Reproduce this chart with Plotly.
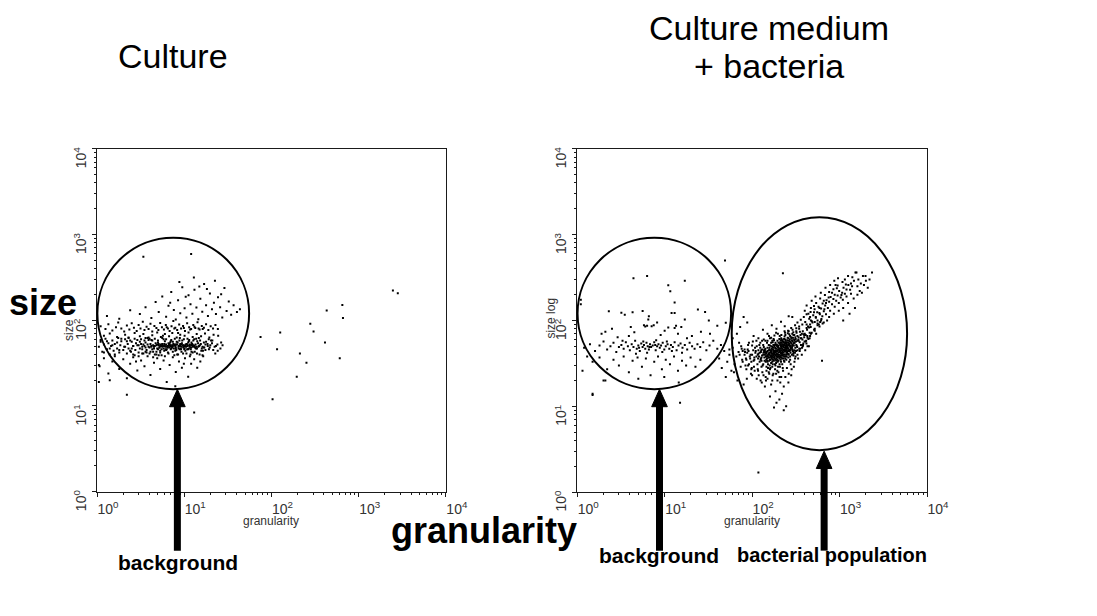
import plotly.graph_objects as go

W, H = 1097, 616

# ---------------- Culture medium alone: events as (granularity, size) ----------------
culture_core = [
    (2.6, 50), (3.1, 47), (3.4, 52), (3.9, 49), (4.3, 46), (4.8, 51), (5.2, 48), (5.9, 53), (6.4, 50), (7.1, 47),
    (7.8, 52), (8.6, 49), (9.4, 54), (10.2, 50), (11.3, 47), (12.4, 52), (13.8, 49), (15.1, 51), (16.7, 48),
    (2.8, 54), (3.3, 49), (3.7, 45), (4.1, 53), (4.6, 50), (5.0, 55), (5.5, 46), (6.1, 49), (6.8, 52), (7.4, 50),
    (8.1, 45), (8.9, 51), (9.8, 48), (10.7, 53), (11.9, 46), (13.1, 50), (14.4, 54), (15.9, 47), (17.5, 52),
    (3.0, 51), (3.6, 55), (4.0, 48), (4.4, 51), (4.9, 47), (5.4, 52), (5.7, 50), (6.3, 46), (6.6, 54), (7.2, 49),
    (7.7, 51), (8.4, 55), (9.1, 47), (9.6, 51), (10.5, 49), (11.1, 55), (12.0, 48), (12.8, 51), (14.0, 47), (15.5, 53),
    (2.5, 47), (3.2, 53), (3.5, 50), (4.2, 49), (4.7, 54), (5.1, 51), (5.6, 49), (6.0, 51), (6.5, 48), (6.9, 50),
    (7.5, 53), (8.0, 48), (8.7, 50), (9.3, 52), (10.0, 46), (10.9, 50), (11.6, 52), (12.6, 49), (13.5, 52), (14.8, 50),
    (16.2, 49), (3.8, 52), (4.5, 49), (5.3, 50), (5.8, 47), (6.2, 52), (6.7, 51), (7.0, 46), (7.9, 50), (8.3, 52),
    (9.0, 50), (9.9, 51), (10.4, 52), (11.5, 50), (12.3, 51), (13.3, 48), (6.5, 50), (7.3, 51), (8.8, 50), (11.0, 51),
]
culture_scatter = [
    (5.3, 44), (2.2, 57), (9.7, 41), (1.4, 47), (12.7, 58), (3.6, 62), (7.7, 39), (18.5, 53), (4.1, 43), (1.7, 55),
    (10.9, 61), (6.2, 45), (2.9, 51), (15.7, 44), (8.2, 56), (1.2, 42), (20.3, 58), (5.8, 60), (3.3, 46), (11.8, 40),
    (6.9, 55), (2.4, 44), (14.1, 57), (4.6, 40), (9.2, 46), (1.9, 61), (13.2, 43), (7.1, 59), (3.7, 42), (16.8, 55),
    (5.5, 39), (2.6, 50), (10.3, 44), (8.9, 62), (1.5, 51), (12.1, 55), (4.3, 58), (6.5, 42), (19.6, 48), (3.1, 56),
    (7.9, 44), (2.1, 49), (11.4, 59), (5.0, 46), (15.0, 40), (1.3, 57), (9.5, 58), (4.8, 43), (13.7, 61), (6.0, 57),
    (3.4, 41), (17.5, 45), (8.5, 40), (2.3, 62), (10.8, 46), (5.6, 53), (1.8, 45), (12.5, 42), (7.4, 56), (4.0, 61),
    (24.2, 44), (21.0, 58), (26.5, 55), (22.7, 41), (19.1, 60), (16.2, 39), (1.1, 59), (1.6, 40), (2.7, 39), (3.9, 59),
    (4.5, 47), (5.2, 48), (6.1, 46), (7.3, 48), (8.0, 47), (9.0, 53), (10.1, 47), (11.1, 46), (12.3, 53), (13.6, 47),
    (5.9, 50), (7.6, 47), (9.8, 49), (12.0, 51), (4.9, 52), (3.6, 48), (6.8, 48), (8.6, 47), (10.6, 52), (14.5, 49),
    (5.5, 50), (6.3, 49), (7.0, 51), (8.1, 52), (9.3, 49), (4.2, 50), (11.7, 48), (6.7, 53), (8.9, 46), (5.1, 53),
]
culture_wide = [
    (1.05, 49), (1.1, 56), (1.15, 43), (1.2, 52), (1.25, 61), (1.3, 46), (1.35, 54), (1.4, 40), (1.45, 50), (1.5, 58),
    (1.55, 44), (1.6, 53), (1.7, 47), (1.75, 62), (1.8, 42), (1.85, 51), (1.9, 57), (2.0, 45), (2.05, 49), (2.1, 60),
    (2.2, 41), (2.25, 53), (2.3, 47), (2.4, 58), (2.45, 43), (2.5, 56), (2.6, 40), (2.7, 61), (2.75, 45), (2.9, 59),
    (3.0, 42), (3.2, 60), (3.3, 41), (3.5, 58), (3.6, 43), (3.8, 62), (4.0, 41), (4.2, 59), (4.4, 43), (4.6, 61),
    (4.8, 40), (5.0, 58), (5.3, 42), (5.6, 62), (5.9, 44), (6.2, 60), (6.6, 41), (7.0, 57), (7.4, 43), (7.8, 61),
    (8.3, 40), (8.8, 58), (9.3, 43), (9.9, 60), (10.6, 41), (11.3, 57), (12.1, 43), (13.0, 60), (14.0, 41), (15.2, 58),
    (16.4, 44), (17.8, 56), (19.2, 46), (20.8, 54), (22.3, 49), (24.0, 52), (26.0, 47), (27.5, 51), (21.5, 45),
    (18.6, 50), (17.0, 48), (19.9, 51), (23.1, 50),
]
culture_mid = [
    (1.2, 66), (1.4, 70), (1.7, 64), (2.1, 68), (2.3, 63), (2.7, 71), (3.1, 65), (3.4, 69), (3.9, 63), (4.3, 67),
    (4.9, 72), (5.4, 64), (6.0, 69), (6.7, 65), (7.3, 71), (8.2, 63), (9.0, 68), (10.1, 66), (11.2, 72), (12.5, 64),
    (13.9, 69), (15.6, 65), (17.3, 70), (19.4, 63), (21.7, 68), (24.5, 66), (8.5, 71), (14.7, 62), (5.7, 66),
]
culture_upper = [
    (1.1, 85), (1.25, 79), (1.35, 90), (1.5, 76), (1.65, 83), (1.75, 94), (1.9, 80), (2.05, 74), (2.2, 87), (2.35, 78),
    (2.5, 92), (2.65, 82), (2.85, 75), (3.0, 88), (3.15, 80), (3.35, 96), (3.5, 77), (3.7, 84), (3.9, 79), (4.1, 91),
    (4.3, 74), (4.55, 86), (4.8, 81), (5.05, 77), (5.3, 93), (5.55, 83), (5.85, 78), (6.15, 88), (6.5, 80), (6.8, 75),
    (7.15, 85), (7.5, 98), (7.9, 82), (8.3, 77), (8.75, 89), (9.2, 80), (9.7, 86), (10.2, 75), (10.8, 92), (11.4, 83),
    (12.0, 79), (12.7, 88), (13.4, 81), (14.2, 95), (15.0, 78), (15.9, 86), (16.8, 82), (17.8, 90), (18.9, 77), (20.1, 85),
    (21.4, 80), (22.8, 88), (24.3, 79), (9.9, 81), (11.7, 78), (13.1, 84), (14.6, 80), (16.3, 79), (7.7, 80), (6.3, 83),
]
culture_top = [
    (1.3, 112), (1.8, 104), (2.4, 131), (3.1, 118), (3.6, 142), (4.2, 106), (4.7, 163), (5.1, 125), (5.6, 189), (6.2, 110),
    (6.6, 148), (7.1, 214), (7.6, 132), (8.0, 102), (8.5, 171), (9.0, 121), (9.5, 243), (10.1, 138), (10.6, 108), (11.2, 196),
    (11.8, 154), (12.4, 119), (13.1, 227), (13.8, 141), (14.5, 103), (15.3, 178), (16.1, 126), (16.9, 265), (17.8, 150), (18.7, 112),
    (19.7, 205), (20.8, 134), (21.9, 160), (23.1, 118), (24.4, 186), (25.8, 142), (27.3, 108), (28.9, 238), (30.6, 128), (32.4, 166),
    (34.5, 116), (36.8, 150), (40.2, 125), (43.5, 134), (8.8, 280), (12.9, 315), (22.5, 290), (10.4, 188), (14.9, 247), (6.9, 160),
    (18.2, 232), (26.5, 201),
]
culture_low = [
    (1.05, 30), (1.2, 36), (1.35, 24), (1.5, 33), (1.6, 38), (1.8, 27), (2.0, 35), (2.2, 21), (2.4, 31), (2.6, 37),
    (2.9, 26), (3.2, 34), (3.5, 29), (3.8, 38), (4.1, 23), (4.5, 32), (4.9, 36), (5.3, 27), (5.8, 34), (6.3, 19),
    (6.8, 30), (7.4, 37), (8.0, 25), (8.7, 33), (9.4, 28), (10.2, 36), (11.1, 22), (12.0, 31), (13.0, 35), (14.1, 28),
    (15.3, 33), (16.5, 38), (4.4, 37), (6.0, 38), (7.9, 17), (9.9, 31), (3.0, 38), (5.1, 39), (11.6, 38), (2.8, 33),
]
culture_outliers = [
    (75, 64), (126, 72), (116, 46), (212, 41), (252, 32), (195, 22), (103, 12), (279, 91), (304, 74), (430, 130),
    (411, 55), (607, 36), (650, 151), (661, 106), (2470, 222), (2810, 206), (13, 8.4), (12, 592), (3.4, 551),
    (2.2, 13.5), (1.4, 20), (1.07, 29), (1.05, 19),
]

# ---------------- Culture medium + bacteria ----------------
medium_band = [
    (1.2, 48), (1.4, 53), (1.6, 44), (1.8, 51), (2.0, 57), (2.2, 46), (2.4, 50), (2.6, 55), (2.8, 43), (3.0, 49),
    (3.2, 52), (3.4, 47), (3.6, 56), (3.8, 50), (4.0, 45), (4.2, 53), (4.4, 49), (4.6, 58), (4.8, 47), (5.0, 51),
    (5.2, 44), (5.4, 54), (5.6, 49), (5.8, 52), (6.0, 47), (6.2, 55), (6.4, 50), (6.6, 46), (6.8, 53), (7.0, 49),
    (7.3, 51), (7.6, 56), (7.9, 45), (8.2, 50), (8.5, 53), (8.8, 48), (9.1, 51), (9.5, 55), (9.9, 46), (10.3, 50),
    (10.8, 53), (11.3, 47), (11.8, 52), (12.4, 49), (13.0, 56), (13.7, 45), (14.4, 51), (15.2, 54), (16.0, 48), (17.0, 52),
    (18.1, 46), (19.3, 55), (20.6, 50), (22.0, 47), (23.7, 53), (25.5, 49), (27.6, 56), (30.0, 45), (32.6, 51), (36.0, 58),
    (40.0, 47), (44.0, 52), (3.3, 58), (5.7, 57), (8.0, 59), (10.6, 57), (6.3, 42), (9.4, 43), (12.1, 44), (4.7, 41),
    (15.8, 42), (7.8, 52), (5.1, 48), (6.7, 49),
]
medium_upper = [
    (4.4, 310), (6.3, 330), (17, 290), (11, 258), (11.6, 219), (13, 162), (2.3, 128), (3.2, 123), (3.5, 117), (4.3, 125),
    (5.6, 129), (6.6, 112), (6.5, 103), (8.2, 95), (12, 122), (13, 122), (17, 103), (24, 134), (29, 126), (32, 100),
    (50, 94), (40, 87), (1.1, 175), (4.1, 84), (4.5, 73), (11, 83), (13, 82), (13.5, 87), (15.5, 84), (2.5, 80),
    (2.1, 74), (6.3, 87), (5.8, 88), (6.0, 85), (7.1, 86), (7.5, 88), (1.9, 70), (3.9, 66), (9.0, 68), (14.2, 70),
    (20.5, 66), (26, 74), (33, 70), (2.9, 64), (18, 62), (10, 76),
]
medium_low = [
    (1.3, 38), (1.5, 33), (1.8, 37), (2.2, 27), (2.6, 35), (3.0, 30), (3.4, 38), (3.9, 25), (4.3, 34), (4.9, 37),
    (5.5, 29), (6.1, 36), (6.9, 23), (7.6, 33), (8.4, 38), (9.3, 27), (10.3, 35), (11.5, 31), (12.8, 38), (14.2, 26),
    (15.8, 34), (17.6, 30), (19.8, 37), (22.5, 29), (25.6, 35), (1.15, 26), (2.0, 20), (9.9, 22), (5.0, 21), (14.5, 19),
    (1.5, 14), (15, 11),
]
bacteria_core = [
    (120, 38), (135, 42), (148, 36), (155, 45), (162, 39), (170, 33), (178, 41), (186, 47), (195, 37), (205, 43),
    (214, 50), (224, 39), (236, 46), (248, 53), (260, 41), (274, 49), (290, 57), (305, 45), (320, 52), (338, 60),
    (110, 44), (125, 35), (140, 40), (152, 31), (158, 48), (166, 43), (174, 37), (182, 52), (190, 44), (200, 34),
    (210, 56), (220, 47), (230, 42), (242, 58), (255, 50), (268, 44), (282, 62), (296, 54), (312, 48), (330, 66),
    (100, 40), (115, 31), (130, 46), (144, 38), (150, 33), (160, 51), (168, 36), (176, 45), (185, 30), (193, 50),
    (203, 40), (212, 35), (222, 53), (232, 61), (245, 45), (258, 55), (272, 38), (286, 59), (300, 51), (318, 57),
    (95, 36), (108, 48), (122, 33), (137, 44), (146, 29), (154, 41), (163, 35), (171, 49), (180, 38), (188, 32),
    (198, 46), (207, 54), (217, 37), (227, 49), (239, 56), (251, 43), (264, 52), (278, 47), (293, 63), (309, 42),
    (105, 29), (118, 41), (128, 37), (142, 47), (151, 38), (159, 30), (167, 45), (175, 40), (184, 35), (192, 41),
    (201, 48), (211, 43), (219, 60), (229, 36), (240, 51), (253, 59), (266, 46), (280, 54), (297, 39), (325, 50),
    (88, 42), (98, 33), (112, 38), (127, 45), (139, 34), (147, 43), (156, 37), (165, 32), (173, 46), (181, 43),
    (189, 36), (197, 40), (206, 31), (215, 45), (225, 57), (235, 48), (247, 40), (261, 62), (276, 51), (292, 44),
    (92, 31), (103, 45), (117, 36), (132, 30), (141, 42), (149, 39), (157, 34), (164, 44), (172, 31), (179, 37),
    (187, 42), (196, 38), (204, 45), (213, 41), (221, 36), (233, 44), (244, 54), (256, 48), (270, 57), (285, 48),
    (130, 39), (138, 37), (145, 35), (153, 40), (161, 42), (169, 38), (177, 34), (183, 40), (191, 38), (199, 42),
    (208, 38), (216, 42), (226, 45), (237, 40), (249, 48), (262, 44), (275, 42), (288, 50), (303, 55), (315, 61),
    (126, 43), (143, 33), (150, 44), (158, 40), (163, 38), (168, 41), (174, 39), (180, 44), (186, 39), (194, 35),
    (202, 38), (209, 47), (218, 51), (228, 52), (238, 54), (250, 52), (263, 58), (277, 56), (290, 52), (302, 60),
    (200, 55), (210, 52), (220, 58), (230, 55), (240, 60), (250, 56), (215, 62), (235, 65), (255, 63), (225, 50),
    (245, 50), (265, 54), (195, 58), (205, 61), (185, 55), (175, 52), (165, 55), (155, 52), (232, 52), (218, 55),
]
bacteria_spread = [
    (142, 58), (265, 33), (98, 27), (372, 48), (188, 72), (121, 52), (310, 36), (224, 28), (156, 66), (415, 58),
    (89, 46), (198, 29), (280, 82), (134, 31), (350, 44), (176, 61), (240, 36), (112, 58), (455, 62), (207, 66),
    (96, 40), (330, 40), (162, 28), (258, 76), (124, 48), (385, 54), (214, 33), (148, 55), (297, 68), (184, 48),
    (106, 37), (430, 50), (170, 29), (270, 60), (130, 58), (360, 62), (226, 40), (117, 26), (320, 75), (192, 52),
    (140, 45), (235, 75), (160, 62), (400, 70), (205, 47), (128, 34), (290, 46), (172, 56), (248, 38), (100, 51),
    (345, 85), (182, 31), (275, 45), (136, 49), (420, 90), (212, 59), (152, 28), (305, 58), (196, 33), (118, 45),
    (166, 50), (238, 44), (178, 59), (258, 47), (145, 41), (215, 48), (190, 40), (228, 46), (160, 35), (272, 50),
    (205, 36), (185, 44), (250, 45), (175, 43), (140, 43), (222, 43), (168, 47), (195, 44), (240, 49), (158, 46),
    (213, 39), (180, 50), (200, 51), (150, 48), (232, 38), (262, 40), (171, 41), (198, 49), (186, 53), (154, 37),
    (220, 41), (246, 42), (166, 39), (208, 44), (176, 48), (190, 47), (228, 57), (244, 47), (213, 53), (162, 45),
    (145, 38), (134, 40), (126, 36), (116, 40), (109, 42), (104, 34), (122, 42), (138, 46), (149, 34), (157, 42),
    (165, 37), (173, 35), (181, 36), (189, 34), (200, 38), (210, 37), (219, 39), (231, 34), (241, 38), (253, 41),
    (283, 48), (295, 41), (306, 55), (318, 44), (328, 49), (340, 58), (354, 47), (366, 62), (382, 52), (395, 68),
    (410, 57), (428, 66), (448, 83), (470, 70), (490, 95), (512, 78), (535, 110), (560, 92), (588, 122), (615, 100),
    (100, 23), (113, 21), (129, 19), (144, 20), (262, 24), (283, 27), (300, 29), (86, 35), (82, 40), (78, 44),
    (92, 55), (104, 66), (118, 62), (133, 78), (150, 70), (168, 88), (190, 80), (214, 97), (236, 86), (262, 112),
    (288, 110), (460, 110), (510, 125), (520, 80), (580, 90), (635, 112), (670, 135), (540, 70), (480, 72), (600, 96),
]
bacteria_halo = [
    (72, 40), (78, 33), (82, 46), (86, 27), (90, 52), (94, 38), (97, 24), (102, 57), (107, 26), (113, 50),
    (119, 23), (124, 55), (131, 25), (136, 60), (143, 22), (150, 58), (157, 24), (165, 63), (172, 23), (180, 67),
    (188, 24), (197, 70), (206, 22), (216, 68), (226, 26), (238, 72), (250, 28), (262, 75), (276, 31), (290, 78),
    (305, 33), (320, 81), (336, 36), (352, 74), (370, 40), (388, 69), (405, 45), (425, 78), (446, 50), (468, 84),
    (76, 47), (84, 30), (91, 44), (99, 28), (106, 35), (116, 27), (128, 29), (134, 52), (146, 26), (160, 27),
    (170, 58), (183, 27), (194, 26), (208, 29), (221, 31), (234, 33), (246, 35), (259, 37), (272, 35), (285, 40),
    (298, 43), (314, 38), (330, 45), (346, 47), (362, 52), (380, 50), (398, 57), (418, 54), (440, 61), (460, 66),
    (240, 68), (256, 71), (272, 66), (288, 70), (304, 68), (322, 72), (340, 64), (358, 68), (376, 60), (394, 64),
    (330, 58), (350, 56), (312, 64), (296, 73), (280, 64), (266, 69), (370, 70), (410, 68), (430, 63), (455, 72),
]
bacteria_tail = [
    (310, 88), (330, 95), (345, 80), (360, 102), (375, 90), (390, 110), (405, 96), (420, 118), (436, 85), (450, 105),
    (466, 126), (482, 98), (500, 115), (518, 135), (536, 108), (555, 125), (575, 145), (595, 118), (615, 138), (640, 158),
    (660, 128), (685, 150), (710, 172), (735, 140), (760, 165), (790, 188), (820, 155), (850, 178), (880, 200), (915, 170),
    (950, 195), (990, 220), (1030, 185), (1070, 210), (1110, 240), (1150, 205), (1200, 230), (1260, 260), (1320, 228), (1390, 250),
    (1460, 290), (1520, 362), (1560, 362), (1640, 300), (1750, 270), (1850, 330), (2000, 290), (2350, 362), (1980, 330),
    (380, 75), (420, 82), (460, 90), (520, 96), (560, 100), (620, 104), (700, 118), (780, 130), (880, 145), (980, 160),
    (1090, 175), (1200, 190), (1350, 205), (640, 92), (720, 100), (470, 140), (540, 160), (600, 180), (680, 198), (760, 215),
    (850, 232), (950, 255), (1080, 280), (560, 88), (590, 140), (700, 160), (820, 210), (930, 238), (1050, 198), (1180, 262),
    (400, 130), (440, 120), (510, 148), (660, 170), (750, 185), (1100, 100), (1300, 120), (1500, 140),
    (420, 150), (480, 170), (530, 190), (610, 210), (690, 240), (780, 260), (870, 290), (960, 310), (1250, 330), (1400, 320),
    (1600, 250), (1700, 220), (1900, 260), (2200, 300), (2100, 240), (1450, 180), (1250, 160), (1100, 140), (980, 130), (860, 120),
    (760, 110), (660, 95), (590, 85), (520, 76), (470, 100), (1600, 200), (1800, 210), (1350, 270), (1150, 300), (900, 260),
]
bacteria_low = [
    (150, 21), (165, 18), (175, 24), (185, 15), (195, 20), (205, 12), (215, 22), (230, 17), (245, 10), (178, 9.7),
    (230, 9), (160, 13), (140, 17), (125, 20), (200, 25), (260, 19), (280, 23), (220, 14), (190, 11), (170, 20),
    (210, 19), (240, 22), (135, 23), (155, 25), (118, 1.7),
]
bacteria_left = [
    (42, 36), (45, 28), (48, 44), (50, 22), (52, 33), (55, 40), (58, 26), (60, 48), (63, 31), (66, 38),
    (68, 20), (71, 55), (74, 29), (77, 35), (80, 18), (83, 43), (87, 21), (90, 30), (55, 46), (62, 25),
    (70, 43), (75, 50), (85, 36), (49, 500), (225, 355), (630, 34), (60, 62), (67, 70), (73, 84), (80, 110),
    (88, 95), (1.5, 13.6), (2.1, 20), (1.1, 155),
]

culture_events = (culture_core + culture_scatter + culture_wide + culture_mid + culture_upper
                  + culture_top + culture_low + culture_outliers)
bacteria_events = (medium_band + medium_upper + medium_low + bacteria_core + bacteria_spread
                   + bacteria_halo + bacteria_tail + bacteria_low + bacteria_left)

decades = [1, 10, 100, 1000, 10000]
decade_labels = ["10<sup>0</sup>", "10<sup>1</sup>", "10<sup>2</sup>", "10<sup>3</sup>", "10<sup>4</sup>"]
minor_vals = [m * d for d in decades[:-1] for m in range(2, 10)]

FONT = "Liberation Sans, Arial, sans-serif"


def px(x):
    return x / W


def py(y):
    return 1 - y / H


def dots(events, xa, ya):
    gx, sz = zip(*events)
    return go.Scatter(x=list(gx), y=list(sz), xaxis=xa, yaxis=ya, mode="markers",
                      marker=dict(symbol="square", size=2, color="black", line=dict(width=0)),
                      showlegend=False, hoverinfo="skip")


fig = go.Figure()
fig.add_trace(dots(culture_events, "x", "y"))
fig.add_trace(dots(bacteria_events, "x2", "y2"))


def log_axis(domain, anchor, vertical):
    ax = dict(type="log", range=[0, 4], domain=domain, anchor=anchor,
              showline=True, linecolor="#1a1a1a", linewidth=1.3, mirror=True,
              ticks="outside", ticklen=4, tickwidth=1, tickcolor="#1a1a1a",
              tickmode="array", tickvals=decades, ticktext=decade_labels,
              showgrid=False, zeroline=False, fixedrange=True,
              minor=dict(ticks="outside", ticklen=2, tickwidth=1, tickcolor="#1a1a1a",
                         tickmode="array", tickvals=minor_vals, showgrid=False),
              tickfont=dict(family=FONT, size=14, color="#333"),
              ticklabelshift=11)
    if vertical:
        ax["tickangle"] = -90
    return ax


fig.update_layout(
    width=W, height=H, margin=dict(l=0, r=0, t=0, b=0),
    paper_bgcolor="white", plot_bgcolor="white",
    xaxis=log_axis([px(99), px(455)], "y", False),
    yaxis=log_axis([py(507), py(152)], "x", True),
    xaxis2=log_axis([px(589), px(946)], "y2", False),
    yaxis2=log_axis([py(507.5), py(152)], "x2", True),
)

# gates
gate_line = dict(color="black", width=2)
fig.add_shape(type="circle", xref="x domain", yref="y domain",
              x0=0.001, x1=0.436, y0=0.299, y1=0.741, line=gate_line)
fig.add_shape(type="circle", xref="x2 domain", yref="y2 domain",
              x0=0.001, x1=0.440, y0=0.300, y1=0.741, line=gate_line)
fig.add_shape(type="circle", xref="x2 domain", yref="y2 domain",
              x0=0.4417, x1=0.943, y0=0.1224, y1=0.801, line=gate_line)


# pointer arrows from the labels up to the gates
def arrow(x, tip, base=568, half=8, head=18, width=7):
    fig.add_shape(type="line", xref="paper", yref="paper",
                  x0=px(x), x1=px(x), y0=py(base), y1=py(tip + head - 1),
                  line=dict(color="black", width=width))
    path = "M {:.5f} {:.5f} L {:.5f} {:.5f} L {:.5f} {:.5f} Z".format(
        px(x - half), py(tip + head), px(x + half), py(tip + head), px(x), py(tip))
    fig.add_shape(type="path", xref="paper", yref="paper", path=path,
                  fillcolor="black", line=dict(color="black", width=1))


arrow(181, 401)
arrow(673, 401)
arrow(841, 465)


def label(text, x, y, size, bold=False, angle=0, color="black"):
    fig.add_annotation(xref="paper", yref="paper", x=px(x), y=py(y),
                       text="<b>%s</b>" % text if bold else text,
                       showarrow=False, xanchor="center", yanchor="middle",
                       textangle=angle, font=dict(family=FONT, size=size, color=color))


# panel titles
label("Culture", 177, 56, 34)
label("Culture medium", 785, 27, 34)
label("+ bacteria", 785, 66, 34)

# small axis titles
label("granularity", 277, 537, 12, color="#333")
label("granularity", 767, 537, 12, color="#333")
label("size", 71, 340, 12, angle=-90, color="#333")
label("size log", 562, 327, 12, angle=-90, color="#333")

# large explanatory labels
label("size", 44, 311, 36, bold=True)
label("granularity", 494, 547, 36, bold=True)
label("background", 182, 580, 21, bold=True)
label("background", 672, 573, 21, bold=True)
label("bacterial population", 849, 573, 20, bold=True)

fig.write_html("out.html")
